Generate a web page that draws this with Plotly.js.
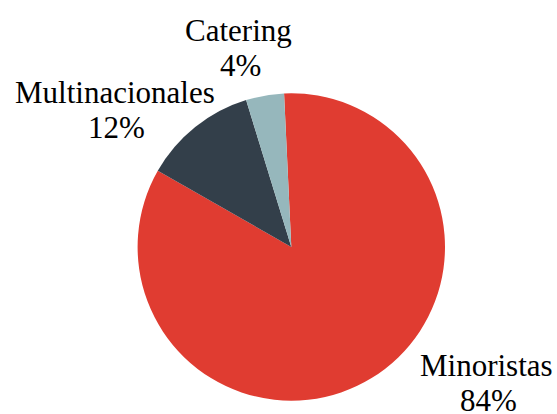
<!DOCTYPE html>
<html>
<head>
<meta charset="utf-8">
<script src="https://cdn.plot.ly/plotly-3.0.1.min.js"></script>
<style>
html,body{margin:0;padding:0;background:#fff;}
#chart{width:557px;height:414px;}
#chart text{font-family:Tinos,"Liberation Serif","Times New Roman",serif !important;}
</style>
</head>
<body>
<div id="chart"></div>
<script>
const labels = ["Minoristas", "Multinacionales", "Catering"];
const values = [84, 12, 4];
const colors = ["#E03C31", "#333F4A", "#96B7BC"];

// label placement (pixel centres of name line and percent line)
const labelPos = [
  {nx: 486, ny: 365, px: 489, py: 400},
  {nx: 115, ny: 92.5, px: 116, py: 127.5},
  {nx: 238, ny: 30.5, px: 241, py: 65.5}
];

const W = 557, H = 414;
const FAMILY = "Tinos, Liberation Serif, Times New Roman, serif";
function labelFont() { return {family: FAMILY, size: 31, color: "#000000"}; }
const total = values.reduce((a, b) => a + b, 0);

const annotations = [];
labels.forEach((lab, i) => {
  const p = labelPos[i];
  annotations.push({text: lab, xref: "paper", yref: "paper", x: p.nx / W, y: 1 - p.ny / H,
    xanchor: "center", yanchor: "middle", showarrow: false, font: labelFont()});
  annotations.push({text: Math.round(values[i] / total * 100) + "%", xref: "paper", yref: "paper",
    x: p.px / W, y: 1 - p.py / H, xanchor: "center", yanchor: "middle", showarrow: false, font: labelFont()});
});

const trace = {
  type: "pie",
  labels: labels,
  values: values,
  sort: false,
  direction: "clockwise",
  rotation: -2.7,
  marker: {colors: colors, line: {width: 0}},
  textinfo: "none",
  automargin: false,
  showlegend: false,
  hoverinfo: "none",
  domain: {x: [137.6 / W, 445 / W], y: [1 - 400.7 / H, 1 - 93.3 / H]}
};

Plotly.newPlot("chart", [trace], {
  width: W, height: H,
  margin: {l: 0, r: 0, t: 0, b: 0},
  paper_bgcolor: "#fff",
  showlegend: false,
  font: {family: FAMILY, size: 31, color: "#000000"},
  annotations: annotations
}, {staticPlot: true});
</script>
</body>
</html>
